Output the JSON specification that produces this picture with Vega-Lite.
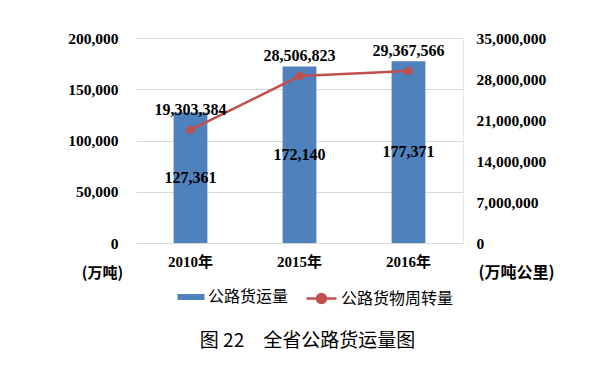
{
  "$schema": "https://vega.github.io/schema/vega-lite/v6.json",
  "width": 327,
  "height": 205,
  "autosize": {"type": "none"},
  "padding": {"left": 136, "top": 38, "right": 148, "bottom": 130},
  "background": "white",
  "config": {
    "view": {"stroke": null},
    "axis": {"labelColor": "#000", "titleColor": "#000", "ticks": false, "domain": false}
  },
  "title": {
    "text": "图 22　全省公路货运量图",
    "orient": "bottom",
    "anchor": "middle",
    "offset": 24,
    "dx": 8,
    "font": "Noto Sans CJK SC",
    "fontSize": 19,
    "fontWeight": "normal",
    "color": "#000"
  },
  "data": {
    "values": [
      {"year": "2010年", "freight": 127361, "turnover": 19303384},
      {"year": "2015年", "freight": 172140, "turnover": 28506823},
      {"year": "2016年", "freight": 177371, "turnover": 29367566}
    ]
  },
  "encoding": {
    "x": {
      "field": "year",
      "type": "nominal",
      "sort": null,
      "scale": {"paddingInner": 0.69, "paddingOuter": 0.345},
      "axis": {
        "title": null,
        "labelAngle": 0,
        "labelFont": "Liberation Serif, Noto Sans CJK SC",
        "labelFontWeight": "bold",
        "labelFontSize": 15,
        "labelPadding": 11,
        "grid": false
      }
    }
  },
  "layer": [
    {
      "mark": {"type": "bar", "color": "#4F81BD"},
      "encoding": {
        "y": {
          "field": "freight",
          "type": "quantitative",
          "scale": {"domain": [0, 200000]},
          "axis": {
            "orient": "left",
            "values": [0, 50000, 100000, 150000, 200000],
            "format": ",.0f",
            "grid": true,
            "gridColor": "#D9D9D9",
            "gridWidth": 1,
            "labelFont": "Liberation Serif",
            "labelFontWeight": "bold",
            "labelFontSize": 15.5,
            "labelPadding": 18,
            "title": "(万吨)",
            "titleAngle": 0,
            "titleFont": "Noto Sans CJK SC",
            "titleFontWeight": "bold",
            "titleFontSize": 15,
            "titleAlign": "center",
            "titleBaseline": "middle",
            "titleX": -34,
            "titleY": 234
          }
        },
        "fill": {
          "datum": "公路货运量",
          "scale": {"range": ["#4F81BD"]},
          "legend": {
            "orient": "none",
            "legendX": 46,
            "legendY": 250,
            "title": null,
            "padding": 0,
            "symbolType": "M-1.5,-0.33L1.5,-0.33L1.5,0.33L-1.5,0.33Z",
            "symbolSize": 324,
            "symbolStrokeWidth": 0,
            "labelOffset": 8,
            "labelFont": "Noto Sans CJK SC",
            "labelFontSize": 16,
            "labelColor": "#000"
          }
        }
      }
    },
    {
      "mark": {"type": "text", "font": "Liberation Serif", "fontWeight": "bold", "fontSize": 16, "color": "#000", "baseline": "middle"},
      "encoding": {
        "y": {"field": "freight", "type": "quantitative", "scale": {"domain": [0, 400000]}, "axis": null},
        "text": {"field": "freight", "type": "quantitative", "format": ",.0f"}
      }
    },
    {
      "mark": {"type": "line", "strokeWidth": 2.5},
      "encoding": {
        "y": {
          "field": "turnover",
          "type": "quantitative",
          "scale": {"domain": [0, 35000000]},
          "axis": {
            "orient": "right",
            "values": [0, 7000000, 14000000, 21000000, 28000000, 35000000],
            "format": ",.0f",
            "grid": false,
            "domain": true,
            "domainColor": "#E6E6E6",
            "labelFont": "Liberation Serif",
            "labelFontWeight": "bold",
            "labelFontSize": 15.5,
            "labelPadding": 13,
            "title": "(万吨公里)",
            "titleAngle": 0,
            "titleFont": "Noto Sans CJK SC",
            "titleFontWeight": "bold",
            "titleFontSize": 16,
            "titleAlign": "center",
            "titleBaseline": "middle",
            "titleX": 53,
            "titleY": 234
          }
        },
        "stroke": {
          "datum": "公路货物周转量",
          "scale": {"range": ["#C0504D"]},
          "legend": {
            "orient": "none",
            "legendX": 174,
            "legendY": 249,
            "title": null,
            "padding": 0,
            "symbolType": "M-1.5,0L1.5,0M-0.45,0A0.45,0.45,0,1,0,0.45,0A0.45,0.45,0,1,0,-0.45,0Z",
            "symbolSize": 400,
            "symbolStrokeWidth": 2.5,
            "labelOffset": 8,
            "labelFont": "Noto Sans CJK SC",
            "labelFontSize": 16,
            "labelColor": "#000",
            "encode": {"symbols": {"update": {"fill": {"value": "#C0504D"}, "stroke": {"value": "#C0504D"}}}}
          }
        }
      }
    },
    {
      "mark": {"type": "point", "filled": true, "size": 70, "color": "#C0504D", "opacity": 1},
      "encoding": {
        "y": {"field": "turnover", "type": "quantitative", "scale": {"domain": [0, 35000000]}, "axis": null}
      }
    },
    {
      "mark": {"type": "text", "font": "Liberation Serif", "fontWeight": "bold", "fontSize": 16, "color": "#000", "baseline": "middle", "dy": -20},
      "encoding": {
        "y": {"field": "turnover", "type": "quantitative", "scale": {"domain": [0, 35000000]}, "axis": null},
        "text": {"field": "turnover", "type": "quantitative", "format": ",.0f"}
      }
    }
  ],
  "resolve": {"scale": {"y": "independent"}}
}
